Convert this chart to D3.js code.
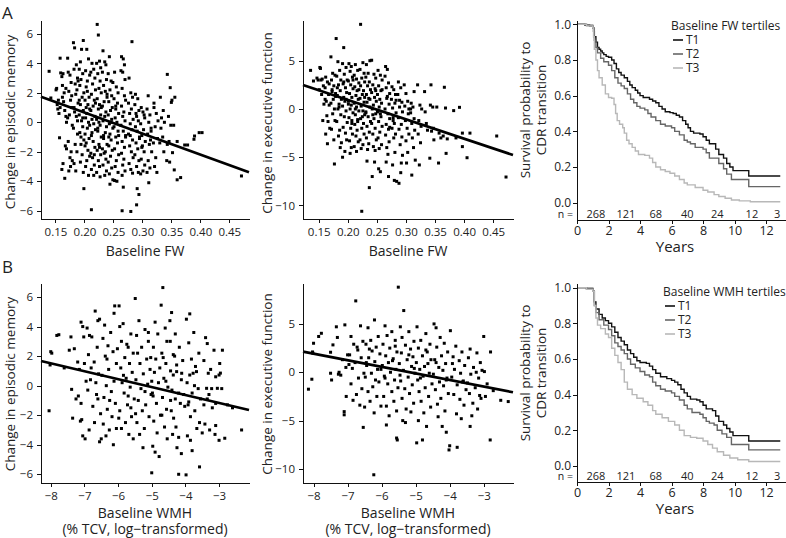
<!DOCTYPE html>
<html lang="en">
<head>
<meta charset="utf-8">
<title>Baseline FW / WMH</title>
<script src="https://cdnjs.cloudflare.com/ajax/libs/d3/7.8.5/d3.min.js"></script>
<style>
  body { margin: 0; background: #fff; }
  svg text { font-family: "Open Sans", sans-serif; fill: #222; }
  .axis path, .axis line { fill: none; stroke: #111; stroke-width: 1; shape-rendering: crispEdges; }
  .axis text { font-size: 11.5px; }
  .title { font-size: 14px; }
</style>
</head>
<body>
<script>
// ---- scatter data: [baseline x, change] ----
var memFW = [
[0.139,3.46],[0.142,1.65],
[0.151,2.2],[0.153,1.2],[0.154,0.9],[0.156,0.6],[0.155,1.5],[0.157,-1.05],[0.158,4.35],[0.159,3.35],[0.152,2.3],[0.158,1.0],
[0.161,3.1],[0.163,3.3],[0.162,2.5],[0.165,2.0],[0.164,1.4],[0.166,0.8],[0.168,0.4],[0.167,-1.6],[0.169,-1.8],[0.163,-2.8],[0.161,-3.2],[0.166,-3.8],[0.168,2.3],[0.162,1.7],[0.169,0.0],
[0.171,4.35],[0.172,3.4],[0.175,3.2],[0.177,2.7],[0.173,2.1],[0.176,1.5],[0.178,1.0],[0.174,0.5],[0.179,-0.2],[0.172,-1.3],[0.177,-2.0],[0.175,-2.4],[0.179,-2.6],[0.176,-3.0],[0.173,-3.3],[0.178,1.8],[0.171,0.3],
[0.181,5.4],[0.183,5.05],[0.186,3.9],[0.182,3.6],[0.188,3.0],[0.184,2.6],[0.187,2.2],[0.185,1.9],[0.189,1.3],[0.183,0.7],[0.186,0.4],[0.181,-0.4],[0.188,-0.8],[0.184,-1.5],[0.187,-2.0],[0.182,-2.8],[0.185,-3.3],[0.189,2.8],[0.182,1.0],[0.188,0.1],
[0.198,5.55],[0.195,4.95],[0.193,4.1],[0.191,3.6],[0.197,3.3],[0.194,2.9],[0.192,2.5],[0.199,2.0],[0.196,1.7],[0.193,1.2],[0.198,0.8],[0.191,0.5],[0.195,0.1],[0.197,-0.3],[0.192,-0.7],[0.199,-1.2],[0.194,-1.5],[0.196,-2.2],[0.193,-2.7],[0.198,-3.4],[0.199,-4.5],[0.191,1.5],[0.197,0.3],[0.194,-1.0],
[0.204,4.95],[0.207,4.3],[0.202,3.5],[0.209,3.2],[0.205,2.8],[0.203,2.4],[0.208,1.7],[0.201,1.5],[0.206,1.2],[0.209,0.9],[0.204,0.6],[0.202,0.3],[0.207,0.0],[0.205,-0.4],[0.201,-0.8],[0.208,-1.1],[0.203,-1.4],[0.206,-1.9],[0.209,-2.3],[0.204,-2.6],[0.202,-3.0],[0.207,-3.6],[0.205,2.1],[0.209,-0.2],[0.201,-1.6],[0.203,1.0],
[0.213,4.0],[0.216,3.6],[0.211,3.4],[0.218,3.0],[0.214,2.6],[0.219,2.2],[0.212,1.9],[0.217,1.5],[0.215,1.1],[0.211,0.8],[0.218,0.4],[0.213,0.2],[0.216,-0.1],[0.219,-0.5],[0.212,-0.9],[0.215,-1.3],[0.218,-1.7],[0.211,-2.1],[0.214,-2.4],[0.217,-2.9],[0.212,-3.2],[0.216,-3.6],[0.212,-5.93],[0.219,1.3],[0.213,-0.7],[0.217,-2.2],
[0.222,6.64],[0.224,5.92],[0.226,4.15],[0.221,4.0],[0.228,3.7],[0.223,3.3],[0.227,2.8],[0.225,2.3],[0.229,2.0],[0.222,1.6],[0.226,1.2],[0.224,0.9],[0.228,0.5],[0.221,0.2],[0.227,-0.2],[0.223,-0.6],[0.229,-1.0],[0.225,-1.5],[0.222,-1.9],[0.228,-2.2],[0.224,-2.6],[0.226,-3.0],[0.221,-3.4],[0.227,-3.7],[0.229,1.0],[0.223,-0.4],[0.226,-1.7],[0.225,0.0],
[0.232,4.85],[0.235,4.1],[0.237,3.9],[0.231,3.4],[0.238,2.9],[0.233,2.5],[0.236,2.1],[0.239,1.7],[0.234,1.4],[0.231,1.1],[0.237,0.7],[0.235,0.4],[0.232,0.1],[0.238,-0.3],[0.236,-0.7],[0.233,-1.1],[0.239,-1.5],[0.231,-1.8],[0.234,-2.1],[0.237,-2.5],[0.232,-2.9],[0.238,-3.3],[0.235,-3.6],[0.239,1.9],[0.233,-0.9],[0.236,-2.0],
[0.243,4.45],[0.241,3.3],[0.246,2.8],[0.249,2.7],[0.244,2.2],[0.247,1.8],[0.242,1.4],[0.248,1.0],[0.245,0.8],[0.241,0.5],[0.247,0.2],[0.243,-0.1],[0.249,-0.4],[0.244,-0.8],[0.246,-1.2],[0.242,-1.6],[0.248,-1.9],[0.245,-2.3],[0.241,-2.7],[0.247,-3.1],[0.243,-3.5],[0.244,-4.2],[0.249,-3.9],[0.246,0.0],[0.242,-1.0],
[0.252,3.4],[0.255,2.4],[0.258,2.0],[0.251,1.6],[0.257,1.3],[0.254,0.9],[0.259,0.6],[0.253,0.3],[0.256,0.0],[0.251,-0.3],[0.258,-0.6],[0.254,-1.0],[0.257,-1.4],[0.252,-1.8],[0.259,-2.2],[0.255,-2.6],[0.253,-3.0],[0.258,-3.4],[0.252,-3.95],[0.256,-4.0],[0.254,1.1],[0.259,-0.9],
[0.264,4.45],[0.267,4.3],[0.263,3.5],[0.266,3.4],[0.270,2.9],[0.265,2.3],[0.269,1.8],[0.271,1.5],[0.264,1.1],[0.268,0.7],[0.266,0.4],[0.270,0.1],[0.263,-0.2],[0.267,-0.6],[0.271,-0.9],[0.265,-1.3],[0.269,-1.7],[0.264,-2.1],[0.268,-2.5],[0.266,-2.9],[0.270,-3.3],[0.265,-3.6],[0.267,-4.4],[0.265,-6.0],[0.269,3.9],[0.271,-1.0],
[0.277,3.0],[0.280,2.0],[0.283,1.7],[0.276,1.3],[0.281,0.9],[0.278,0.6],[0.284,0.2],[0.279,-0.1],[0.282,-0.5],[0.276,-0.8],[0.283,-1.2],[0.278,-1.6],[0.281,-2.0],[0.284,-2.4],[0.277,-2.8],[0.280,-3.2],[0.283,-3.45],[0.280,-6.05],[0.282,5.47],[0.279,-0.9],
[0.288,1.9],[0.292,1.6],[0.287,1.2],[0.294,0.8],[0.290,0.4],[0.293,0.1],[0.288,-0.3],[0.291,-0.6],[0.295,-1.0],[0.289,-1.4],[0.292,-1.8],[0.287,-2.2],[0.294,-2.6],[0.290,-3.0],[0.293,-3.4],[0.291,-4.5],[0.294,-4.9],[0.290,-5.6],[0.289,0.6],[0.295,-1.1],
[0.298,1.0],[0.301,0.7],[0.304,0.3],[0.297,-0.1],[0.302,-0.5],[0.299,-0.9],[0.305,-1.3],[0.300,-1.6],[0.303,-2.0],[0.298,-2.5],[0.304,-2.9],[0.301,-3.3],[0.297,-3.5],[0.303,0.5],[0.299,-1.7],
[0.310,1.8],[0.308,0.9],[0.313,0.5],[0.311,0.0],[0.315,-0.4],[0.309,-0.8],[0.314,-1.2],[0.312,-1.5],[0.316,-2.0],[0.310,-2.6],[0.313,-3.1],[0.308,-3.4],[0.311,-4.1],[0.315,-0.6],
[0.320,1.3],[0.324,0.6],[0.322,-0.3],[0.326,-1.1],[0.319,-1.4],[0.323,-2.4],[0.321,-3.0],[0.325,-3.4],[0.327,0.1],[0.320,1.0],
[0.331,1.7],[0.336,0.8],[0.333,0.3],[0.335,-1.0],[0.330,-1.4],[0.337,-2.0],[0.332,-0.4],[0.338,0.0],
[0.343,3.25],[0.348,2.35],[0.351,1.5],[0.345,0.4],[0.349,-0.2],[0.343,-1.5],[0.342,-2.6],[0.347,-2.7],
[0.350,1.35],[0.356,1.7],[0.354,-0.2],[0.346,-1.3],
[0.360,-1.3],[0.352,-2.06],[0.355,-3.23],[0.360,-3.9],[0.366,-3.75],[0.373,-1.54],[0.378,-1.54],
[0.389,-1.15],[0.390,-0.93],[0.398,-0.7],[0.403,-0.7],[0.471,-3.64]
];

var execFW = [
[0.136,4.0],[0.141,2.9],[0.147,3.2],[0.149,3.0],
[0.152,4.3],[0.153,4.2],[0.156,3.1],[0.158,2.4],[0.155,1.5],[0.159,0.5],[0.157,-1.2],[0.151,2.0],[0.154,3.0],
[0.162,3.3],[0.165,2.8],[0.161,2.2],[0.167,1.5],[0.163,0.8],[0.168,0.4],[0.164,-0.7],[0.166,-1.3],[0.169,-2.0],[0.162,-2.6],[0.165,-3.6],[0.168,2.6],[0.161,1.0],
[0.171,5.4],[0.174,3.7],[0.178,3.5],[0.172,3.0],[0.176,2.4],[0.173,1.8],[0.179,1.3],[0.175,1.0],[0.171,0.6],[0.177,0.0],[0.174,-0.5],[0.178,-1.2],[0.172,-2.1],[0.176,-3.2],[0.177,-5.7],[0.179,1.6],[0.173,2.0],
[0.180,7.3],[0.183,4.9],[0.186,4.0],[0.181,3.4],[0.188,3.0],[0.184,2.5],[0.187,1.9],[0.182,1.4],[0.189,1.0],[0.185,0.5],[0.183,0.0],[0.188,-0.6],[0.181,-1.3],[0.186,-2.2],[0.184,-2.8],[0.189,-3.5],[0.187,-4.0],[0.182,2.2],[0.185,0.2],
[0.193,6.36],[0.191,4.7],[0.197,4.3],[0.194,3.6],[0.199,3.0],[0.192,2.6],[0.196,2.2],[0.198,1.7],[0.193,1.2],[0.195,0.8],[0.191,0.3],[0.197,-0.2],[0.194,-0.8],[0.199,-1.4],[0.192,-1.9],[0.196,-2.5],[0.198,-3.2],[0.195,-4.4],[0.191,-5.0],[0.193,2.8],[0.197,1.0],
[0.202,4.7],[0.206,4.4],[0.204,3.9],[0.208,3.3],[0.201,2.9],[0.205,2.5],[0.209,2.1],[0.203,1.6],[0.207,1.2],[0.201,0.8],[0.206,0.4],[0.204,0.0],[0.209,-0.4],[0.202,-0.9],[0.207,-1.5],[0.205,-2.0],[0.208,-2.6],[0.203,-3.3],[0.206,-4.0],[0.204,-4.6],[0.209,3.0],[0.201,0.5],[0.207,-1.2],
[0.213,4.6],[0.217,4.0],[0.211,3.5],[0.215,3.1],[0.219,2.7],[0.212,2.3],[0.216,1.9],[0.214,1.4],[0.218,1.0],[0.211,0.6],[0.215,0.2],[0.219,-0.2],[0.213,-0.6],[0.217,-1.1],[0.212,-1.6],[0.216,-2.2],[0.214,-2.8],[0.218,-3.4],[0.211,-3.9],[0.215,-4.4],[0.219,2.0],[0.213,0.0],[0.217,-1.3],
[0.222,8.77],[0.226,4.8],[0.221,4.1],[0.228,3.7],[0.224,3.2],[0.229,2.8],[0.222,2.4],[0.227,1.9],[0.225,1.5],[0.221,1.1],[0.228,0.7],[0.223,0.3],[0.226,-0.2],[0.229,-0.6],[0.222,-1.0],[0.227,-1.5],[0.224,-2.0],[0.228,-2.6],[0.221,-3.2],[0.226,-3.7],[0.223,-4.1],[0.224,-10.6],[0.229,1.2],[0.225,-0.8],
[0.238,5.0],[0.232,4.6],[0.235,3.7],[0.231,3.3],[0.237,2.8],[0.234,2.4],[0.239,2.0],[0.232,1.5],[0.236,1.1],[0.233,0.7],[0.238,0.2],[0.231,-0.3],[0.235,-0.8],[0.239,-1.3],[0.233,-1.8],[0.237,-2.4],[0.232,-3.0],[0.236,-3.6],[0.234,-4.2],[0.233,-5.4],[0.237,-8.15],[0.238,1.0],[0.231,-0.4],
[0.241,5.05],[0.245,3.6],[0.248,3.2],[0.243,2.5],[0.247,2.1],[0.241,1.7],[0.246,1.2],[0.249,0.8],[0.244,0.4],[0.242,0.0],[0.248,-0.5],[0.245,-1.0],[0.241,-1.5],[0.247,-2.0],[0.243,-2.6],[0.249,-3.2],[0.244,-3.9],[0.247,-4.3],[0.246,-5.5],[0.242,-7.0],[0.248,1.9],[0.243,-0.6],
[0.252,4.0],[0.256,3.5],[0.259,3.0],[0.253,2.4],[0.257,1.9],[0.251,1.5],[0.255,1.0],[0.258,0.6],[0.254,0.2],[0.251,-0.3],[0.257,-0.8],[0.253,-1.3],[0.259,-1.8],[0.255,-2.4],[0.252,-3.0],[0.258,-3.7],[0.254,-4.1],[0.256,-6.5],[0.253,-6.2],[0.259,2.0],[0.256,-0.5],
[0.265,4.4],[0.268,4.1],[0.264,3.4],[0.270,2.7],[0.266,2.2],[0.272,1.6],[0.267,1.1],[0.271,0.5],[0.264,0.0],[0.269,-0.5],[0.272,-1.0],[0.266,-1.6],[0.270,-2.1],[0.265,-2.7],[0.271,-3.4],[0.267,-4.0],[0.269,-4.7],[0.266,-5.5],[0.270,-7.0],[0.268,1.3],[0.272,-1.9],
[0.276,2.3],[0.279,2.0],[0.282,1.5],[0.275,1.0],[0.281,0.6],[0.277,0.1],[0.283,-0.4],[0.278,-0.9],[0.280,-1.5],[0.276,-2.0],[0.282,-2.6],[0.279,-3.0],[0.281,-4.5],[0.277,-5.8],[0.280,-7.4],[0.284,-7.5],[0.283,0.9],[0.278,-1.2],
[0.287,2.8],[0.291,2.2],[0.286,1.5],[0.293,0.7],[0.289,0.2],[0.294,-0.3],[0.287,-0.9],[0.292,-1.6],[0.288,-2.1],[0.293,-2.9],[0.290,-3.7],[0.294,-4.8],[0.292,-5.6],[0.288,-7.7],[0.291,-6.6],[0.289,0.9],
[0.297,2.5],[0.300,1.6],[0.303,0.8],[0.298,0.3],[0.304,-0.5],[0.299,-1.2],[0.302,-2.0],[0.305,-2.6],[0.300,-3.3],[0.303,-4.5],[0.301,-5.6],[0.305,0.0],
[0.309,0.6],[0.312,0.2],[0.308,-0.4],[0.314,-1.0],[0.310,-1.5],[0.315,-2.2],[0.311,-3.0],[0.313,-4.0],[0.316,-5.3],[0.310,-6.85],[0.314,1.8],[0.308,0.0],
[0.320,2.5],[0.324,0.4],[0.322,-1.2],[0.326,-1.8],[0.321,-2.6],[0.325,-3.5],[0.323,-5.8],[0.327,0.0],
[0.332,1.8],[0.335,-1.5],[0.337,-2.2],[0.333,-0.3],
[0.342,0.4],[0.346,0.2],[0.344,-2.3],[0.348,-3.2],[0.341,-5.1],[0.343,2.5],[0.347,-2.0],
[0.353,0.2],[0.357,-2.5],[0.360,-3.0],[0.356,-5.6],
[0.366,2.25],[0.368,0.1],[0.364,-2.8],[0.369,-4.6],[0.371,-3.1],
[0.382,-0.17],[0.392,0.17],[0.386,-3.0],[0.397,-2.5],[0.397,-3.9],[0.405,-5.05],[0.410,-2.5],
[0.456,-2.8],[0.472,-7.05]
];

var memWMH = [
[-8.05,-1.7],[-8.0,2.3],[-7.97,2.2],[-8.02,1.4],[-7.82,3.4],[-7.76,3.45],[-7.6,1.2],
[-7.45,2.4],[-7.38,-0.25],[-7.35,-2.2],[-7.4,3.3],[-7.3,2.5],[-7.2,1.6],[-7.15,1.1],[-7.1,4.3],[-7.05,4.0],[-7.1,-1.2],[-7.12,-2.4],[-7.08,-2.3],[-7.05,-3.4],[-6.98,-3.6],[-7.0,1.5],[-6.95,0.3],[-7.18,-0.7],[-7.02,3.3],[-7.25,-0.9],
[-6.92,3.9],[-6.85,3.4],[-6.68,5.05],[-6.55,4.5],[-6.78,3.3],[-6.62,2.6],[-6.88,2.1],[-6.71,1.6],[-6.58,0.8],[-6.82,0.4],[-6.66,0.2],[-6.9,-0.3],[-6.6,-0.9],[-6.75,-1.4],[-6.52,-1.9],[-6.7,-2.5],[-6.86,-3.0],[-6.55,-3.8],[-6.5,-3.6],[-6.6,4.4],[-6.8,1.2],[-6.64,-0.6],
[-6.1,5.4],[-6.4,4.1],[-6.22,3.6],[-6.45,3.2],[-6.3,2.7],[-6.15,2.3],[-6.38,2.0],[-6.05,1.5],[-6.28,1.1],[-6.48,0.7],[-6.12,0.3],[-6.35,0.0],[-6.2,-0.4],[-6.42,-0.8],[-6.08,-1.2],[-6.32,-1.6],[-6.18,-2.1],[-6.44,-2.6],[-6.26,-3.0],[-6.36,-3.4],[-6.14,-4.0],[-6.12,4.9],[-6.02,2.5],[-6.25,-1.0],[-6.05,-2.9],[-6.33,1.8],
[-5.97,5.4],[-5.85,4.2],[-5.62,3.5],[-5.9,3.0],[-5.7,2.6],[-5.55,2.2],[-5.8,1.9],[-5.66,1.5],[-5.92,1.2],[-5.58,0.9],[-5.76,0.5],[-5.88,0.2],[-5.64,-0.1],[-5.82,-0.5],[-5.52,-0.9],[-5.72,-1.3],[-5.95,-1.7],[-5.6,-2.1],[-5.78,-2.5],[-5.9,-2.9],[-5.68,-3.3],[-5.55,-3.6],[-5.95,4.0],[-5.74,2.8],[-5.84,0.7],[-5.62,-1.5],[-5.98,-2.2],[-5.7,-0.7],
[-5.49,5.9],[-5.38,4.4],[-5.2,3.8],[-5.45,3.4],[-5.1,3.0],[-5.3,2.6],[-5.42,2.2],[-5.15,1.8],[-5.35,1.5],[-5.05,1.1],[-5.25,0.8],[-5.47,0.4],[-5.12,0.1],[-5.32,-0.2],[-5.02,-0.6],[-5.4,-1.0],[-5.18,-1.3],[-5.28,-1.7],[-5.08,-2.1],[-5.44,-2.5],[-5.22,-2.9],[-5.36,-3.3],[-5.26,-4.2],[-5.1,3.6],[-5.03,1.9],[-5.2,-0.4],[-5.48,-1.9],[-5.0,0.3],
[-4.67,6.64],[-4.72,5.45],[-4.9,4.3],[-4.6,3.9],[-4.82,3.5],[-4.55,3.0],[-4.95,2.6],[-4.7,2.2],[-4.88,1.8],[-4.58,1.5],[-4.76,1.2],[-4.92,0.9],[-4.64,0.5],[-4.8,0.2],[-4.52,-0.1],[-4.98,-0.5],[-4.68,-0.8],[-4.86,-1.2],[-4.56,-1.6],[-4.74,-2.0],[-4.94,-2.4],[-4.62,-2.8],[-4.84,-3.2],[-4.54,-3.6],[-4.97,-4.1],[-4.9,-4.5],[-4.78,-4.8],[-5.0,-5.9],[-4.66,1.9],[-4.58,0.3],[-4.96,-0.7],[-4.7,-2.0],
[-4.41,4.95],[-4.3,3.5],[-4.45,3.0],[-4.18,2.6],[-4.36,2.1],[-4.08,1.7],[-4.26,1.4],[-4.44,1.0],[-4.36,0.72],[-4.26,0.95],[-4.11,0.84],[-4.4,-0.3],[-4.2,-0.5],[-4.05,-0.6],[-4.3,-0.9],[-4.15,-1.2],[-4.02,-1.4],[-4.42,-1.7],[-4.35,-2.2],[-4.28,-2.8],[-4.38,-3.3],[-4.2,-3.5],[-4.2,-6.0],[-4.12,0.4],[-4.44,-1.0],[-4.32,2.0],[-4.46,4.4],[-4.25,-4.2],[-4.12,-4.6],
[-3.87,4.86],[-3.97,4.5],[-3.75,3.6],[-3.9,2.9],[-3.6,2.2],[-3.82,1.8],[-3.7,1.3],[-3.87,0.72],[-3.77,0.84],[-3.67,0.95],[-3.95,0.2],[-3.62,-0.2],[-3.8,-0.5],[-3.55,-0.9],[-3.92,-1.3],[-3.72,-1.7],[-3.85,-2.1],[-3.58,-2.5],[-3.66,-2.9],[-3.5,-3.2],[-3.94,-3.4],[-3.8,-4.4],[-3.98,-6.04],[-3.58,-5.5],[-3.73,0.0],[-3.9,-1.1],[-3.85,-3.7],
[-3.4,3.25],[-3.35,2.85],[-3.15,2.4],[-3.45,1.7],[-3.25,1.1],[-3.32,0.84],[-3.1,0.6],[-3.37,-0.18],[-3.22,-0.2],[-3.05,-0.18],[-3.3,-0.6],[-3.45,-1.3],[-3.2,-1.5],[-3.1,-1.2],[-3.42,-2.6],[-3.28,-3.0],[-3.1,-2.7],[-3.12,-3.3],[-3.35,-0.9],[-3.0,0.72],
[-2.98,1.5],[-2.96,0.85],[-2.92,-0.2],[-3.0,-3.7],[-2.83,-3.56],[-2.75,-1.3],[-2.6,-1.5],[-2.9,2.4],[-2.33,-3.0]
];

var execWMH = [
[-8.15,-1.75],[-8.05,-0.72],[-8.02,1.97],[-8.0,3.0],[-7.85,3.7],[-7.77,4.03],[-8.03,2.1],
[-7.5,2.07],[-7.43,2.83],[-7.5,-0.1],[-7.47,-0.8],[-7.33,4.7],[-7.3,3.6],[-7.25,0.0],[-7.2,-0.3],[-7.08,4.9],[-7.1,-4.07],[-7.1,-4.4],[-7.04,-2.5],[-7.15,1.3],[-7.0,1.8],[-7.05,0.5],[-7.27,-0.2],
[-6.76,7.38],[-6.62,4.8],[-6.9,3.7],[-6.55,3.2],[-6.82,2.9],[-6.7,2.3],[-6.94,1.8],[-6.6,1.5],[-6.78,1.0],[-6.86,0.4],[-6.52,-0.1],[-6.68,-0.6],[-6.9,-1.2],[-6.58,-1.7],[-6.74,-2.3],[-6.84,-2.9],[-6.64,-3.4],[-6.5,-3.6],[-6.54,-5.7],[-6.72,2.6],[-6.96,0.8],
[-6.21,5.41],[-6.4,4.6],[-6.1,3.7],[-6.32,3.3],[-6.46,2.9],[-6.16,2.6],[-6.28,2.2],[-6.05,1.9],[-6.38,1.5],[-6.2,1.1],[-6.44,0.7],[-6.12,0.3],[-6.3,-0.1],[-6.48,-0.5],[-6.08,-1.0],[-6.26,-1.5],[-6.4,-2.0],[-6.14,-2.5],[-6.34,-3.0],[-6.02,-3.5],[-6.22,-4.2],[-6.23,-10.6],[-6.45,1.0],[-6.18,-0.8],[-6.36,2.4],[-6.02,0.3],
[-5.51,8.8],[-5.9,4.8],[-5.7,4.2],[-5.84,3.8],[-5.6,3.3],[-5.96,2.9],[-5.76,2.5],[-5.55,2.1],[-5.88,1.7],[-5.66,1.4],[-5.8,1.0],[-5.98,0.7],[-5.58,0.3],[-5.74,0.0],[-5.92,-0.4],[-5.62,-0.8],[-5.82,-1.2],[-5.52,-1.6],[-5.7,-2.0],[-5.94,-2.5],[-5.64,-3.0],[-5.86,-3.5],[-5.56,-4.0],[-5.78,-4.5],[-5.86,-5.45],[-5.56,-6.8],[-5.54,-7.0],[-5.68,1.2],[-5.9,-0.6],[-5.6,2.7],
[-5.35,6.38],[-5.45,4.7],[-5.2,4.2],[-5.4,3.6],[-5.05,3.2],[-5.3,2.8],[-5.15,2.4],[-5.42,2.0],[-5.08,1.6],[-5.25,1.3],[-5.48,0.9],[-5.12,0.6],[-5.36,0.2],[-5.02,-0.1],[-5.22,-0.5],[-5.44,-0.9],[-5.1,-1.3],[-5.32,-1.7],[-5.18,-2.2],[-5.4,-2.7],[-5.06,-3.2],[-5.28,-3.8],[-5.14,-4.1],[-5.38,-5.0],[-5.3,-5.2],[-5.2,1.8],[-5.46,-0.3],[-5.04,0.4],
[-4.96,4.7],[-4.7,4.0],[-4.85,3.3],[-4.58,2.9],[-4.92,2.5],[-4.66,2.1],[-4.8,1.7],[-4.55,1.3],[-4.98,1.0],[-4.74,0.6],[-4.88,0.3],[-4.6,-0.1],[-4.78,-0.4],[-4.94,-0.8],[-4.52,-1.2],[-4.72,-1.6],[-4.9,-2.0],[-4.62,-2.5],[-4.84,-3.0],[-4.56,-3.6],[-4.76,-4.2],[-4.92,-5.0],[-4.68,-5.6],[-4.97,-7.3],[-4.8,-7.0],[-4.64,0.9],[-4.86,-0.6],[-4.7,2.3],
[-4.46,5.0],[-4.4,4.6],[-4.28,3.6],[-4.16,3.0],[-4.38,2.6],[-4.06,2.1],[-4.24,1.7],[-4.44,1.3],[-4.12,0.9],[-4.32,0.5],[-4.2,0.2],[-4.48,-0.2],[-4.08,-0.6],[-4.3,-1.0],[-4.18,-1.4],[-4.42,-1.8],[-4.04,-2.2],[-4.26,-2.7],[-4.36,-3.3],[-4.14,-4.0],[-4.34,-4.6],[-4.22,-5.6],[-4.1,-6.2],[-4.02,-8.03],[-4.0,-7.6],[-4.4,1.0],[-4.1,-0.8],
[-3.98,4.3],[-3.82,2.7],[-3.64,2.1],[-3.9,1.6],[-3.72,1.2],[-3.56,0.7],[-3.86,0.3],[-3.68,-0.1],[-3.94,-0.5],[-3.6,-0.9],[-3.78,-1.3],[-3.52,-1.8],[-3.88,-2.3],[-3.7,-2.8],[-3.58,-3.4],[-3.8,-4.3],[-3.66,-4.8],[-3.78,-7.76],[-3.92,0.9],[-3.62,-1.0],
[-3.4,2.4],[-3.2,2.0],[-3.45,1.5],[-3.1,1.0],[-3.3,0.5],[-3.05,0.2],[-3.38,-0.2],[-3.15,-0.6],[-3.48,-1.1],[-3.25,-1.6],[-3.42,-2.2],[-3.08,-2.7],[-3.32,-3.2],[-3.18,-3.8],[-3.35,-4.5],[-3.4,-5.6],[-3.22,0.0],[-3.12,-2.4],
[-3.0,3.7],[-2.98,0.07],[-2.8,2.1],[-2.9,-1.2],[-2.95,-2.5],[-2.81,-7.0],[-2.72,-1.9],[-2.5,-2.9],[-2.28,-3.03]
];

// fitted regression lines, read at both ends of each x axis
var fitMemFW   = [[0.125, 1.74], [0.484, -3.39]];
var fitExecFW  = [[0.123, 2.49], [0.484, -4.77]];
var fitMemWMH  = [[-8.29, 1.67], [-2.11, -1.65]];
var fitExecWMH = [[-8.31, 2.13], [-2.14, -2.07]];

var fwTicks  = [0.15, 0.20, 0.25, 0.30, 0.35, 0.40, 0.45];
var wmhTicks = [-8, -7, -6, -5, -4, -3];
var memTicks = [-6, -4, -2, 0, 2, 4, 6];
var execTicks = [-10, -5, 0, 5];

// ---- Kaplan-Meier curves: [years, survival] ----
var kmFW_T1 = [[0,1],[0.5,0.995],[0.8,0.99],[1.0,0.98],[1.05,0.96],[1.1,0.93],[1.2,0.9],[1.3,0.87],[1.4,0.86],[1.5,0.85],[1.6,0.84],[1.7,0.83],[1.85,0.82],[2.0,0.815],[2.2,0.8],[2.35,0.78],[2.5,0.75],[2.65,0.73],[2.8,0.715],[3.0,0.7],[3.2,0.68],[3.35,0.66],[3.5,0.645],[3.7,0.63],[3.85,0.615],[4.0,0.6],[4.2,0.59],[4.6,0.58],[4.8,0.57],[5.0,0.56],[5.2,0.54],[5.4,0.525],[5.6,0.51],[5.9,0.505],[6.1,0.5],[6.3,0.49],[6.5,0.48],[6.7,0.46],[6.9,0.44],[7.05,0.42],[7.2,0.4],[7.4,0.39],[7.8,0.385],[8.0,0.37],[8.2,0.35],[8.4,0.33],[8.8,0.3],[9.0,0.27],[9.3,0.25],[9.5,0.22],[9.7,0.2],[9.9,0.18],[10.9,0.15],[12.9,0.15]];
var kmFW_T2 = [[0,1],[0.6,0.995],[1.0,0.98],[1.1,0.91],[1.2,0.87],[1.3,0.84],[1.5,0.81],[1.7,0.79],[2.0,0.77],[2.2,0.74],[2.4,0.7],[2.6,0.67],[2.8,0.655],[3.0,0.64],[3.2,0.61],[3.4,0.58],[3.6,0.56],[3.8,0.54],[4.0,0.53],[4.3,0.52],[4.5,0.5],[4.7,0.48],[5.0,0.46],[5.3,0.44],[5.6,0.43],[6.0,0.42],[6.2,0.4],[6.5,0.38],[6.8,0.35],[7.0,0.34],[7.2,0.33],[7.5,0.31],[8.0,0.3],[8.2,0.28],[8.4,0.25],[8.8,0.25],[9.0,0.22],[9.3,0.19],[9.5,0.16],[9.8,0.13],[10.9,0.09],[12.9,0.09]];
var kmFW_T3 = [[0,1],[0.6,0.99],[1.0,0.98],[1.05,0.93],[1.1,0.86],[1.2,0.8],[1.3,0.74],[1.4,0.7],[1.6,0.66],[1.8,0.61],[2.0,0.59],[2.2,0.585],[2.35,0.55],[2.45,0.5],[2.55,0.46],[2.7,0.44],[2.9,0.42],[3.0,0.39],[3.15,0.35],[3.3,0.33],[3.5,0.31],[3.7,0.29],[3.9,0.27],[4.3,0.265],[4.6,0.25],[4.8,0.225],[5.0,0.2],[5.3,0.185],[5.6,0.175],[5.9,0.165],[6.2,0.15],[6.5,0.13],[6.8,0.11],[7.0,0.1],[7.5,0.085],[8.0,0.07],[8.3,0.06],[8.7,0.045],[9.0,0.035],[9.4,0.025],[9.8,0.015],[10.3,0.01],[11.0,0.005],[12.9,0.005]];

var kmWMH_T1 = [[0,1],[0.6,0.995],[1.0,0.98],[1.1,0.92],[1.2,0.88],[1.4,0.85],[1.6,0.83],[1.8,0.815],[2.0,0.8],[2.2,0.78],[2.4,0.75],[2.6,0.72],[2.8,0.7],[3.0,0.68],[3.2,0.65],[3.4,0.63],[3.6,0.61],[3.8,0.59],[4.0,0.58],[4.4,0.575],[4.6,0.56],[4.8,0.54],[5.0,0.52],[5.3,0.5],[5.7,0.49],[6.0,0.48],[6.2,0.47],[6.4,0.455],[6.6,0.43],[6.8,0.41],[7.0,0.39],[7.2,0.375],[7.6,0.37],[7.8,0.36],[8.0,0.34],[8.2,0.32],[8.6,0.31],[8.8,0.28],[9.0,0.25],[9.3,0.23],[9.5,0.21],[9.7,0.19],[9.9,0.17],[10.9,0.14],[12.9,0.14]];
var kmWMH_T2 = [[0,1],[0.6,0.995],[1.0,0.98],[1.1,0.9],[1.2,0.86],[1.4,0.82],[1.7,0.79],[2.0,0.765],[2.2,0.73],[2.4,0.69],[2.6,0.67],[2.8,0.65],[3.0,0.63],[3.2,0.6],[3.4,0.57],[3.7,0.55],[4.0,0.53],[4.3,0.51],[4.6,0.5],[4.8,0.47],[5.0,0.45],[5.3,0.43],[5.6,0.42],[6.0,0.41],[6.2,0.39],[6.5,0.37],[6.8,0.34],[7.0,0.32],[7.3,0.3],[7.8,0.29],[8.0,0.27],[8.2,0.25],[8.4,0.24],[8.7,0.23],[8.9,0.2],[9.2,0.18],[9.5,0.16],[9.8,0.12],[10.9,0.09],[12.9,0.09]];
var kmWMH_T3 = [[0,1],[0.6,0.99],[1.0,0.98],[1.1,0.9],[1.2,0.83],[1.3,0.79],[1.5,0.77],[1.8,0.74],[2.0,0.72],[2.2,0.66],[2.4,0.62],[2.6,0.58],[2.8,0.54],[3.0,0.47],[3.2,0.43],[3.5,0.4],[3.8,0.38],[4.2,0.36],[4.5,0.34],[4.8,0.31],[5.0,0.29],[5.4,0.27],[5.8,0.25],[6.2,0.23],[6.5,0.2],[6.8,0.17],[7.2,0.16],[7.6,0.155],[8.0,0.14],[8.3,0.12],[8.6,0.1],[8.9,0.08],[9.3,0.06],[9.7,0.045],[10.2,0.035],[10.9,0.025],[12.9,0.025]];

var tertiles = ["T1", "T2", "T3"];
var tertileColors = ["#111111", "#666666", "#b8b8b8"];
var riskYears = [1.2, 3.1, 5.0, 7.0, 8.9, 11.1, 12.7];
var atRisk = [268, 121, 68, 40, 24, 12, 3];
var survTicks = [0, 0.2, 0.4, 0.6, 0.8, 1.0];
var yearTicks = [0, 2, 4, 6, 8, 10, 12];

var svg = d3.select("body").append("svg")
            .attr("width", 786)
            .attr("height", 538);

// one scatter panel with its regression line
function scatter(p) {
    var x = d3.scaleLinear().domain(p.xDomain).range([p.left, p.right]);
    var y = d3.scaleLinear().domain(p.yDomain).range([p.bottom, p.top]);
    var g = svg.append("g");

    g.selectAll("rect")
     .data(p.points)
     .enter()
     .append("rect")
     .attr("x", function(d) { return x(d[0]) - 1.5; })
     .attr("y", function(d) { return y(d[1]) - 1.5; })
     .attr("width", 3)
     .attr("height", 3)
     .attr("fill", "#000");

    g.append("path")
     .datum(p.fit)
     .attr("d", d3.line().x(function(d) { return x(d[0]); }).y(function(d) { return y(d[1]); }))
     .attr("stroke", "#000")
     .attr("stroke-width", 2.7)
     .attr("fill", "none");

    g.append("g")
     .attr("class", "axis")
     .attr("transform", "translate(0," + p.bottom + ")")
     .call(d3.axisBottom(x).tickValues(p.xTicks).tickFormat(p.xFormat)
             .tickSize(4).tickPadding(5).tickSizeOuter(0));
    g.append("g")
     .attr("class", "axis")
     .attr("transform", "translate(" + p.left + ",0)")
     .call(d3.axisLeft(y).tickValues(p.yTicks).tickFormat(d3.format("d"))
             .tickSize(4).tickPadding(4).tickSizeOuter(0));

    g.append("text")
     .attr("class", "title")
     .attr("transform", "translate(" + p.yLabelX + "," + p.yLabelY + ") rotate(-90)")
     .attr("text-anchor", "middle")
     .style("font-size", "13.5px")
     .text(p.yLabel);
    p.xLabel.forEach(function(t, i) {
        g.append("text")
         .attr("class", "title")
         .attr("x", (p.left + p.right) / 2)
         .attr("y", p.xLabelY + i * 16)
         .attr("text-anchor", "middle")
         .text(t);
    });
}

// one Kaplan-Meier panel
function survival(p) {
    var x = d3.scaleLinear().domain([0, 13.2]).range([577, 785]);
    var y = d3.scaleLinear().domain(p.yDomain).range([p.bottom, p.top]);
    var g = svg.append("g");
    var line = d3.line()
                 .curve(d3.curveStepAfter)
                 .x(function(d) { return x(d[0]); })
                 .y(function(d) { return y(d[1]); });

    g.selectAll("path.km")
     .data(p.curves)
     .enter()
     .append("path")
     .attr("class", "km")
     .attr("d", line)
     .attr("fill", "none")
     .attr("stroke", function(d, i) { return tertileColors[i]; })
     .attr("stroke-width", 1.4);

    g.append("g")
     .attr("class", "axis")
     .attr("transform", "translate(0," + p.bottom + ")")
     .call(d3.axisBottom(x).tickValues(yearTicks).tickFormat(d3.format("d"))
             .tickSize(4).tickPadding(2).tickSizeOuter(0))
     .selectAll("text").style("font-size", "12.5px");
    g.append("g")
     .attr("class", "axis")
     .attr("transform", "translate(577,0)")
     .call(d3.axisLeft(y).tickValues(survTicks).tickFormat(d3.format(".1f"))
             .tickSize(4).tickPadding(2).tickSizeOuter(0))
     .selectAll("text").style("font-size", "12px");

    // numbers at risk
    g.append("text")
     .attr("x", 573).attr("y", p.bottom - 2)
     .attr("text-anchor", "end")
     .style("font-size", "10.5px")
     .text("n =");
    g.selectAll("text.risk")
     .data(atRisk)
     .enter()
     .append("text")
     .attr("class", "risk")
     .attr("x", function(d, i) { return x(riskYears[i]); })
     .attr("y", p.bottom - 2)
     .attr("text-anchor", "middle")
     .style("font-size", "11px")
     .text(function(d) { return d; });

    g.append("text")
     .attr("class", "title")
     .attr("x", 675).attr("y", p.bottom + 32)
     .attr("text-anchor", "middle")
     .style("font-size", "15px")
     .text("Years");

    g.append("text")
     .attr("class", "title")
     .attr("transform", "translate(530," + p.yLabelY + ") rotate(-90)")
     .attr("text-anchor", "middle")
     .style("font-size", "13.5px")
     .text("Survival probability to");
    g.append("text")
     .attr("class", "title")
     .attr("transform", "translate(546," + p.yLabelY + ") rotate(-90)")
     .attr("text-anchor", "middle")
     .style("font-size", "13.5px")
     .text("CDR transition");

    // legend
    g.append("text")
     .attr("x", p.legX).attr("y", p.legY)
     .style("font-size", "12px")
     .text(p.legTitle);
    tertiles.forEach(function(t, i) {
        var ly = p.legY + 10 + i * 14;
        g.append("line")
         .attr("x1", p.legX + 2).attr("x2", p.legX + 12)
         .attr("y1", ly).attr("y2", ly)
         .attr("stroke", tertileColors[i])
         .attr("stroke-width", 1.6);
        g.append("text")
         .attr("x", p.legX + 15).attr("y", ly + 4)
         .style("font-size", "12px")
         .text(t);
    });
}

var fwFormat = d3.format(".2f");
var wmhFormat = d3.format("d");

scatter({points: memFW, fit: fitMemFW, left: 41, right: 249, top: 20, bottom: 219,
         xDomain: [0.125, 0.484], yDomain: [-6.56, 6.94], xTicks: fwTicks, yTicks: memTicks,
         xFormat: fwFormat, yLabel: "Change in episodic memory", yLabelX: 14.5, yLabelY: 122,
         xLabel: ["Baseline FW"], xLabelY: 256});
scatter({points: execFW, fit: fitExecFW, left: 303, right: 513, top: 20, bottom: 219,
         xDomain: [0.123, 0.484], yDomain: [-11.4, 9.22], xTicks: fwTicks, yTicks: execTicks,
         xFormat: fwFormat, yLabel: "Change in executive function", yLabelX: 272, yLabelY: 123,
         xLabel: ["Baseline FW"], xLabelY: 256});
survival({curves: [kmFW_T1, kmFW_T2, kmFW_T3], top: 20, bottom: 220, yDomain: [-0.097, 1.024],
          yLabelY: 110, legTitle: "Baseline FW tertiles", legX: 671, legY: 30});

scatter({points: memWMH, fit: fitMemWMH, left: 41, right: 249, top: 283, bottom: 483,
         xDomain: [-8.29, -2.11], yDomain: [-6.59, 6.95], xTicks: wmhTicks, yTicks: memTicks,
         xFormat: wmhFormat, yLabel: "Change in episodic memory", yLabelX: 14.5, yLabelY: 384,
         xLabel: ["Baseline WMH", "(% TCV, log\u2212transformed)"], xLabelY: 518});
scatter({points: execWMH, fit: fitExecWMH, left: 303, right: 513, top: 283, bottom: 483,
         xDomain: [-8.31, -2.14], yDomain: [-11.45, 9.23], xTicks: wmhTicks, yTicks: execTicks,
         xFormat: wmhFormat, yLabel: "Change in executive function", yLabelX: 272, yLabelY: 384,
         xLabel: ["Baseline WMH", "(% TCV, log\u2212transformed)"], xLabelY: 518});
survival({curves: [kmWMH_T1, kmWMH_T2, kmWMH_T3], top: 283, bottom: 482, yDomain: [-0.09, 1.026],
          yLabelY: 373, legTitle: "Baseline WMH tertiles", legX: 663, legY: 296});

// panel letters
svg.append("text").attr("x", 2).attr("y", 19).style("font-size", "17px").text("A");
svg.append("text").attr("x", 2).attr("y", 273).style("font-size", "17px").text("B");
</script>
</body>
</html>
